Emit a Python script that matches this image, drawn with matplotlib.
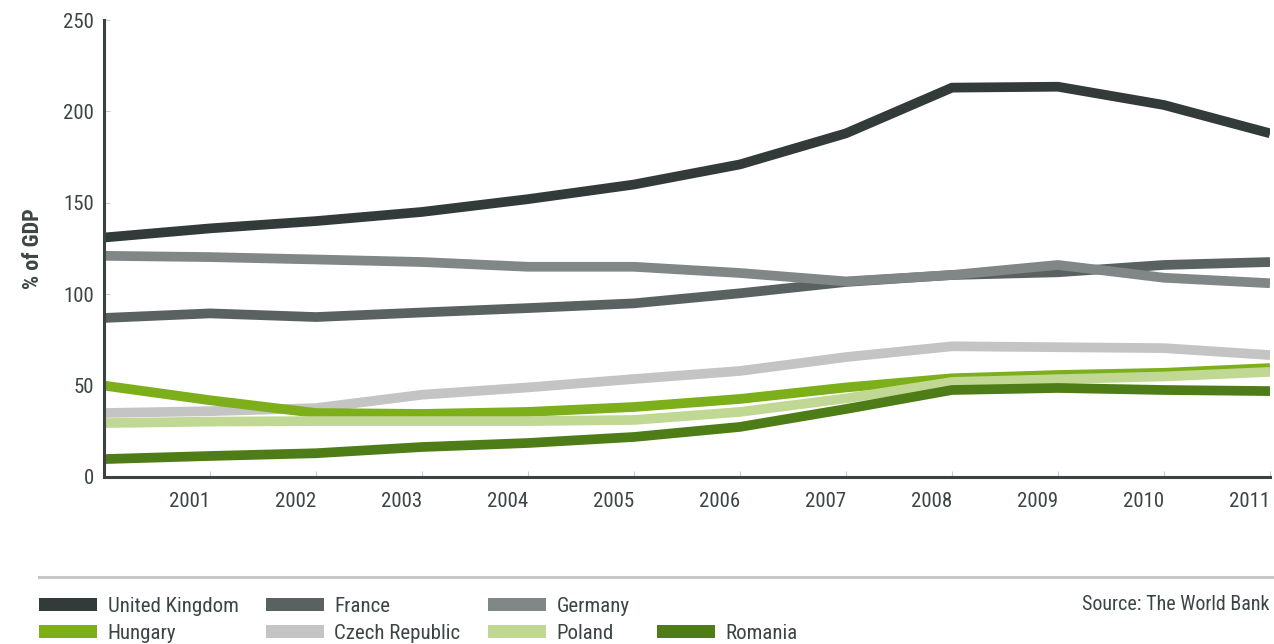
import matplotlib
matplotlib.use("Agg")
import matplotlib.pyplot as plt
from matplotlib import font_manager
from matplotlib.patches import Patch
from matplotlib.lines import Line2D

# pick a narrow font if one is installed
entries = font_manager.fontManager.ttflist
names = {f.name for f in entries}
stretch = 'normal'
base = 'Roboto'
for cand in ['Liberation Sans Narrow', 'Roboto Condensed', 'Open Sans Condensed',
             'DejaVu Sans Condensed', 'Noto Sans Condensed']:
    if cand in names:
        base = cand
        break
else:
    for f in entries:
        if f.name in ('Roboto', 'Noto Sans', 'Open Sans', 'DejaVu Sans') and \
                str(f.stretch) in ('condensed', 'semi-condensed', 'extra-condensed', '75', '87'):
            base, stretch = f.name, f.stretch
            break
plt.rcParams['font.family'] = [base, 'DejaVu Sans']
plt.rcParams['font.stretch'] = stretch

# data (% of GDP)
years = list(range(2000, 2012))
uk = [131, 136, 140, 145, 152, 160, 171, 188, 213, 213.5, 203.5, 188]
france = [87, 89.5, 87.5, 90, 92.4, 95, 100.5, 106.7, 110.5, 112, 116, 117.6]
germany = [121, 120.3, 119, 117.6, 115, 115, 111.6, 107, 110.5, 116, 109, 106]
czech = [35, 36, 37.7, 45, 49, 53.6, 58, 65.6, 71.5, 71, 70.5, 66.7]
hungary = [50, 42, 35, 34.5, 35.6, 38.3, 42.7, 49, 54, 55.8, 57, 59.6]
poland = [29.5, 30.3, 30.6, 30.6, 30.6, 31.2, 35.6, 43, 52, 53.5, 55, 57.5]
romania = [9.8, 11.5, 13, 16.4, 18.6, 21.9, 27.4, 37.2, 47.6, 48.7, 47.6, 47]

series = [
    ("United Kingdom", uk, "#323a3a"),
    ("France", france, "#596260"),
    ("Germany", germany, "#818786"),
    ("Czech Republic", czech, "#c3c4c3"),
    ("Hungary", hungary, "#7daf1b"),
    ("Poland", poland, "#c0d893"),
    ("Romania", romania, "#4e7d18"),
]
colors = {n: c for n, _, c in series}

txt = "#3c4444"

fig = plt.figure(figsize=(12.74, 6.44), dpi=100)
ax = fig.add_axes([104 / 1274, 1 - 477 / 644, 1166 / 1274, 457 / 644])

for name, vals, col in series:
    ax.plot(years, vals, color=col, lw=7.0, solid_joinstyle='miter',
            solid_capstyle='butt', label=name)

ax.set_xlim(2000, 2011)
ax.set_ylim(0, 250)
ax.set_yticks([0, 50, 100, 150, 200, 250])
ax.set_xticks(years[1:])
ax.set_xticklabels([str(y) for y in years[1:]], ha='right')

for s in ['top', 'right']:
    ax.spines[s].set_visible(False)
for s in ['left', 'bottom']:
    ax.spines[s].set_color("#3a4242")
    ax.spines[s].set_linewidth(2.2)

ax.tick_params(axis='both', direction='in', length=4, width=0.8,
               color="#c8cbcb", labelsize=15, labelcolor=txt)
ax.tick_params(axis='x', pad=11)
ax.tick_params(axis='y', pad=7)

ax.set_ylabel("% of GDP", fontsize=16, fontweight='bold', color=txt, labelpad=14)

# rule above legend
fig.add_artist(Line2D([39 / 1274, 1], [1 - 577 / 644] * 2, color="#c6c6c6", lw=2.2,
                      transform=fig.transFigure))

order = ["United Kingdom", "Hungary", "France", "Czech Republic",
         "Germany", "Poland", None, "Romania"]
handles = []
labels = []
for n in order:
    if n is None:
        handles.append(Patch(facecolor='none', edgecolor='none'))
        labels.append("")
    else:
        handles.append(Patch(facecolor=colors[n], edgecolor='none'))
        labels.append(n)

leg = fig.legend(handles, labels, ncol=4, loc='upper left',
                 bbox_to_anchor=(39 / 1274, 1 - 597 / 644),
                 frameon=False, fontsize=15, handlelength=2.8, handleheight=0.55,
                 handletextpad=0.5, columnspacing=1.3, labelspacing=0.38,
                 borderpad=0, borderaxespad=0)
for t in leg.get_texts():
    t.set_color(txt)

fig.text(1270 / 1274, 1 - 605 / 644, "Source: The World Bank", ha='right', va='center',
         fontsize=14.4, color=txt)

fig.savefig("out.png", dpi=100)
